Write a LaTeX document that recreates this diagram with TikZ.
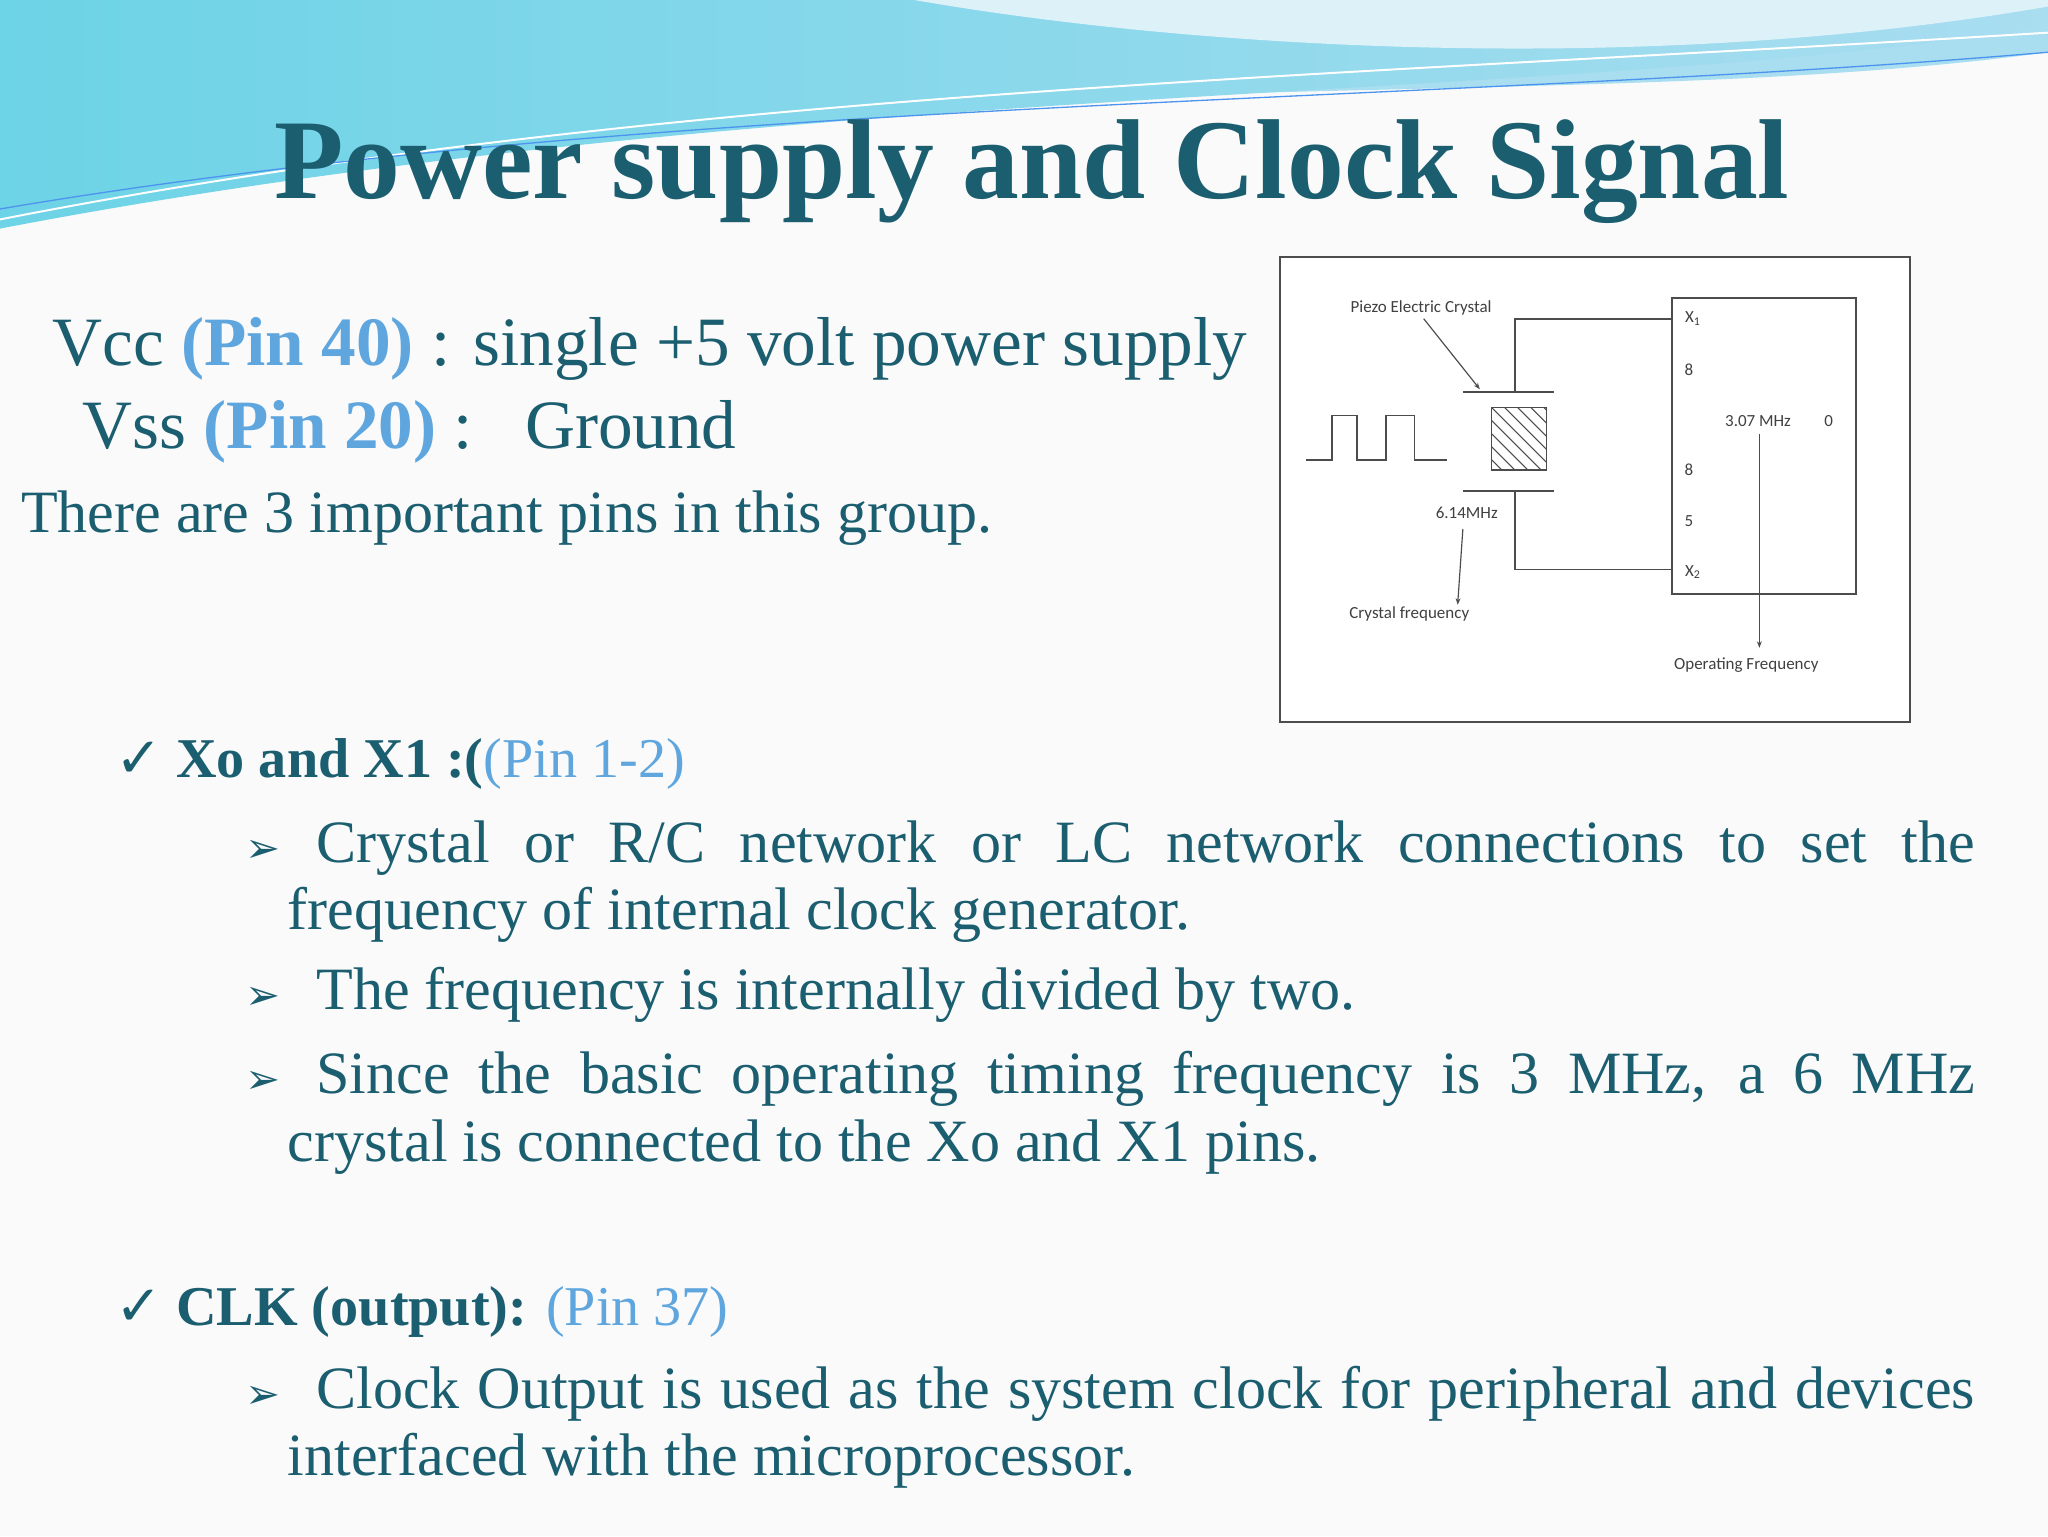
\documentclass[tikz,border=0pt]{standalone}
\usepackage{fontspec}
\setmainfont{Liberation Serif}
\newfontfamily\dsans{DejaVu Sans}
\newfontfamily\csans{Carlito}
\usetikzlibrary{arrows.meta}
\definecolor{teal}{HTML}{1B5E70}
\definecolor{lblue}{HTML}{5FA6DE}
\definecolor{wave1}{HTML}{6DD3E6}
\definecolor{wave2}{HTML}{A9DDF0}
\tikzset{
  txt/.style={anchor=base west,inner sep=0pt,text=teal},
  para/.style={anchor=base west,inner sep=0pt,text=teal,text width=1292pt,align=justify},
  lab/.style={inner sep=1pt,font=\csans\fontsize{13}{15}\selectfont,text=black!75},
  wire/.style={draw=black!70,line width=1.3pt},
  arr/.style={draw=black!70,line width=0.9pt,-{Stealth[length=5pt]}}
}
\newcommand{\bul}{{\dsans\char"27A2}}
\newcommand{\chk}{{\dsans\char"2713}}
\begin{document}
\begin{tikzpicture}[x=1pt,y=-1pt]
\useasboundingbox (0,0) rectangle (1568,1176);
\fill[black!2] (0,0) rectangle (1568,1176);
% waves
\fill[wave2] (0,0) -- (1568,0) -- (1568,40) .. controls (1200,90) and (700,40) .. (0,150) -- cycle;
\shade[left color=wave1,right color=wave2] (0,0) -- (700,0) .. controls (900,30) and (1200,60) .. (1568,0) -- (1568,20) .. controls (1200,80) and (600,60) .. (0,175) -- cycle;
\fill[white!60!wave2] (700,0) .. controls (900,35) and (1250,60) .. (1568,5) -- (1568,0) -- cycle;
\draw[white,line width=1.5pt] (0,168) .. controls (500,70) and (1000,60) .. (1568,25);
\draw[wave1!70!blue,line width=1pt] (0,160) .. controls (500,75) and (1100,80) .. (1568,40);
% title
\node[anchor=base,inner sep=0pt,text=teal,font=\bfseries\fontsize{87}{95}\selectfont] (title) at (790,152) {Power supply and Clock Signal};
% text
\hyphenpenalty=10000
\node[txt,font=\fontsize{53}{58}\selectfont] (vcc) at (40,280) {Vcc \textcolor{lblue}{\textbf{(Pin 40)}} : single +5 volt power supply};
\node[txt,font=\fontsize{53}{58}\selectfont] (vss) at (63,343) {Vss \textcolor{lblue}{\textbf{(Pin 20)}} :\hspace{40pt}Ground};
\node[txt,font=\fontsize{46}{52}\selectfont] (there) at (16,408) {There are 3 important pins in this group.};
\node[txt,font=\fontsize{43}{52}\selectfont] (x0) at (88,595) {\chk\ \textbf{Xo and X1 :(}\textcolor{lblue}{(Pin 1-2)}};
\node[para,font=\fontsize{46}{52}\selectfont] (b1) at (220,660) {\hspace*{22pt}Crystal or R/C network or LC network connections to set the frequency of internal clock generator.};
\node[para,font=\fontsize{46}{52}\selectfont] (b2) at (220,773) {\hspace*{22pt}The frequency is internally divided by two.};
\node[para,font=\fontsize{46}{52}\selectfont] (b3) at (220,837) {\hspace*{22pt}Since the basic operating timing frequency is 3 MHz, a 6 MHz\linebreak crystal is connected to the Xo and X1 pins.};
\node[txt,font=\fontsize{43}{52}\selectfont] (clk) at (88,1015) {\chk\ \textbf{CLK (output):} \textcolor{lblue}{(Pin 37)}};
\node[para,font=\fontsize{46}{52}\selectfont] (b4) at (220,1078) {\hspace*{22pt}Clock Output is used as the system clock for peripheral and devices interfaced with the microprocessor.};
\foreach \y/\n in {660/m1,773/m2,837/m3,1078/m4}
  \node[txt,font=\fontsize{32}{32}\selectfont] (\n) at (188,\y) {\bul};
% diagram
\draw[fill=white,draw=black!70,line width=1.5pt] (980,197) rectangle (1462,553);
\draw[wire] (1280,228) rectangle (1421,455);
\coordinate (tp) at (1160,300);
\coordinate (bp) at (1160,376);
\draw[wire] (tp) -- (1160,244) -- (1280,244);
\draw[wire] (bp) -- (1160,436) -- (1280,436);
\draw[wire] (1120,300) -- (1190,300);
\draw[wire] (1120,376) -- (1190,376);
\begin{scope}
\clip (1142,312) rectangle (1184,360);
\foreach \k in {-50,-40,...,50}
  \draw[black!70,line width=0.8pt] (1142+\k,312) -- (1192+\k,362);
\end{scope}
\draw[wire] (1142,312) rectangle (1184,360);
\draw[wire] (1000,352) -- (1020,352) -- (1020,318) -- (1039,318) -- (1039,352) -- (1061,352) -- (1061,318) -- (1083,318) -- (1083,352) -- (1108,352);
\node[lab] (piezo) at (1088,236) {Piezo Electric Crystal};
\draw[arr] (1090,244) -- (1133,298);
\node[lab] (f614) at (1123,393) {6.14MHz};
\draw[arr] (1120,405) -- (1116,463);
\node[lab] (cf) at (1079,470) {Crystal frequency};
\node[lab] (px1) at (1296,244) {X\textsubscript{1}};
\node[lab] (p8a) at (1293,283) {8};
\node[lab] (p8b) at (1293,360) {8};
\node[lab] (p5) at (1293,399) {5};
\node[lab] (px2) at (1296,438) {X\textsubscript{2}};
\node[lab] (f307) at (1346,322) {3.07 MHz};
\node[lab] (zero) at (1400,322) {0};
\draw[arr] (1347,332) -- (1347,496);
\node[lab] (of) at (1337,509) {Operating Frequency};
\end{tikzpicture}
\end{document}
